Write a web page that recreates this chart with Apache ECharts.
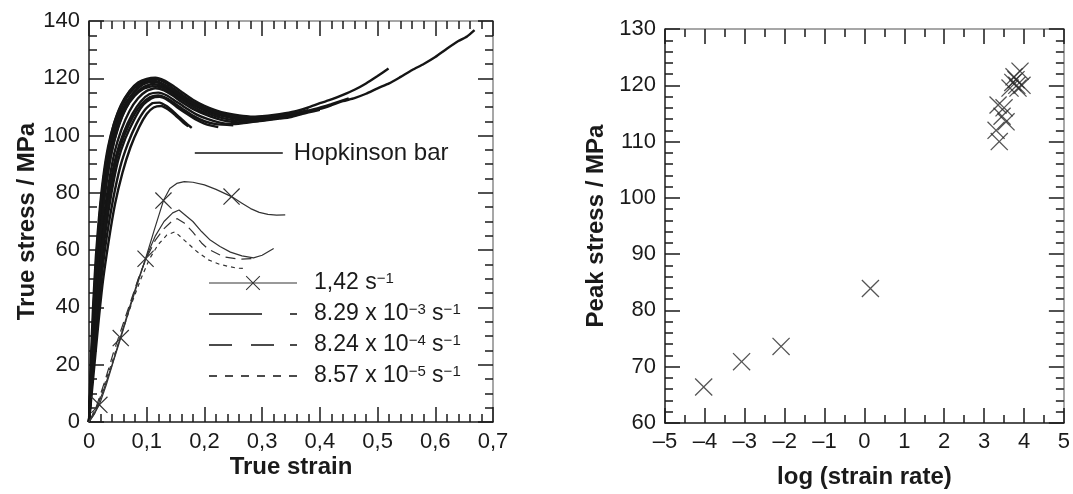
<!DOCTYPE html>
<html>
<head>
<meta charset="utf-8">
<script src="https://cdn.jsdelivr.net/npm/echarts@6/dist/echarts.min.js"></script>
<style>html,body{margin:0;padding:0;background:#fff}#c{width:1073px;height:494px}</style>
</head>
<body>
<div id="c"></div>
<script>
// ---------------- DATA ----------------
// Left panel: x = true strain, y = true stress (MPa)
const strainTicks = [0, 0.1, 0.2, 0.3, 0.4, 0.5, 0.6, 0.7];
const stressTicks = [0, 20, 40, 60, 80, 100, 120, 140];

// Hopkinson bar curves (hand-read)
const hop1 = [[0,0],[0.004,18],[0.009,38],[0.014,55],[0.02,70],[0.028,84],[0.037,95],[0.048,104],[0.06,110],[0.075,114.5],[0.09,117.5],[0.105,119],[0.12,118.6],[0.135,117],[0.15,114.8],[0.165,112.6],[0.18,111],[0.2,109.2],[0.22,107.8],[0.24,106.9],[0.26,106.2],[0.28,105.6],[0.3,105.9],[0.32,106.1],[0.34,106.6],[0.36,107.2],[0.38,108.4],[0.4,109.3],[0.42,110.6],[0.44,112],[0.46,113.1],[0.48,114.6],[0.5,116.5],[0.52,118.2],[0.54,120.5],[0.56,122.9],[0.58,125],[0.6,127.4],[0.62,130.3],[0.64,133],[0.655,134.6],[0.668,136.8]];
const hop2 = [[0,0],[0.003,20],[0.007,40],[0.012,58],[0.018,73],[0.025,86],[0.033,96],[0.043,104],[0.055,110.5],[0.07,115.5],[0.085,118.5],[0.1,119.8],[0.115,120.2],[0.13,119.3],[0.145,117.5],[0.16,115.3],[0.18,112.5],[0.2,110.4],[0.22,108.8],[0.24,107.7],[0.26,107],[0.28,106.6],[0.3,106.8],[0.32,107.2],[0.34,107.8],[0.36,108.6],[0.38,109.8],[0.4,111.3],[0.42,112.6],[0.44,114.2],[0.46,116],[0.48,118.2],[0.5,120.8],[0.519,123.4]];
const hop3 = [[0,0],[0.005,20],[0.01,39],[0.016,57],[0.023,72],[0.031,85],[0.04,95],[0.052,104],[0.065,110],[0.08,114.5],[0.095,117],[0.11,118],[0.125,117.4],[0.14,115.8],[0.155,113.8],[0.17,111.8],[0.19,109.7],[0.21,108],[0.23,106.9],[0.25,106],[0.27,105.3],[0.29,105],[0.31,105.4],[0.33,105.9],[0.35,106.5],[0.37,107.6],[0.4,109]];
const hop4 = [[0,0],[0.005,19],[0.011,38],[0.017,55],[0.025,70],[0.034,83],[0.044,94],[0.056,102],[0.07,108.5],[0.085,113],[0.1,115.6],[0.115,116.5],[0.13,115.8],[0.145,114],[0.16,111.8],[0.18,109.3],[0.2,107.5],[0.22,106],[0.24,105],[0.26,104.6],[0.28,104.9],[0.3,105.5],[0.33,106.3],[0.36,107.4]];
const hop5 = [[0,0],[0.006,19],[0.012,37],[0.019,54],[0.027,69],[0.036,82],[0.047,93],[0.06,101],[0.075,107.5],[0.09,112],[0.105,114.5],[0.12,115],[0.135,114],[0.15,112],[0.165,110],[0.185,107.5],[0.205,105.8],[0.225,104.6],[0.245,104],[0.265,104.3],[0.29,105],[0.31,105.6],[0.33,106.2]];
const hop6 = [[0,0],[0.006,18],[0.013,36],[0.02,52],[0.029,67],[0.039,80],[0.05,91],[0.063,99],[0.078,105.5],[0.093,110.5],[0.108,113],[0.122,113.5],[0.137,112.3],[0.152,110],[0.168,107.8],[0.185,105.6],[0.2,104.2],[0.212,103.5],[0.224,103]];
const hop7 = [[0,0],[0.007,18],[0.014,35],[0.022,51],[0.031,65],[0.042,78],[0.054,89],[0.067,97],[0.082,104],[0.097,109],[0.11,111.3],[0.122,111.5],[0.135,110.2],[0.148,108],[0.16,105.8],[0.17,104],[0.178,102.7]];
const hop8 = [[0,0],[0.008,17],[0.016,34],[0.024,49],[0.034,63],[0.045,76],[0.058,87],[0.072,96],[0.087,103],[0.1,107.5],[0.112,109.8],[0.125,110.3],[0.138,109],[0.15,107],[0.162,104.8],[0.172,103.2]];
const hop9 = [[0,0],[0.004,19],[0.008,39],[0.013,57],[0.019,72],[0.026,85],[0.035,96],[0.045,104],[0.058,110.5],[0.072,115],[0.088,118],[0.103,119.4],[0.118,119.6],[0.133,118.4],[0.148,116.2],[0.163,114],[0.18,111.8],[0.2,109.8],[0.22,108.3],[0.24,107.4],[0.26,106.8],[0.28,106.4],[0.3,106.5]];
const hop10 = [[0,0],[0.004,19],[0.009,38],[0.015,56],[0.021,71],[0.029,84],[0.038,95],[0.05,104],[0.063,110.5],[0.078,115],[0.093,117.8],[0.108,118.8],[0.123,118.3],[0.138,116.6],[0.153,114.5],[0.168,112.4],[0.185,110.5],[0.205,108.7],[0.225,107.4],[0.245,106.5],[0.265,105.9],[0.285,105.7],[0.305,106],[0.33,106.7],[0.36,107.8],[0.39,109.2],[0.42,111],[0.45,113]];
const hop11 = [[0,0],[0.005,19],[0.01,38],[0.016,56],[0.022,70],[0.03,83],[0.039,94],[0.051,103],[0.064,109.5],[0.079,113.8],[0.094,116.3],[0.11,117.2],[0.125,116.8],[0.14,115.2],[0.155,113.2],[0.172,111],[0.19,109],[0.21,107.4],[0.23,106.2],[0.25,105.4],[0.27,105],[0.3,105.3]];
const hop12 = [[0,0],[0.004,20],[0.008,40],[0.013,58],[0.019,73],[0.026,86],[0.034,96],[0.044,104.5],[0.057,111],[0.071,115.6],[0.086,118.2],[0.1,119.2],[0.116,119],[0.131,117.8],[0.146,115.8],[0.162,113.5],[0.18,111.3],[0.2,109.5],[0.22,108.1],[0.24,107.2],[0.26,106.6],[0.28,106.3],[0.3,106.4],[0.32,106.8],[0.34,107.3],[0.36,108],[0.38,108.9]];
const hop13 = [[0,0],[0.006,18],[0.012,36],[0.019,53],[0.027,68],[0.037,81],[0.048,92],[0.061,100],[0.076,106.5],[0.091,111],[0.106,113.4],[0.12,114],[0.135,113],[0.15,111],[0.166,108.8],[0.183,106.6],[0.2,105],[0.22,104],[0.25,103.6]];

// Quasi-static curves
const rate142 = [[0,0],[0.008,2.5],[0.018,6],[0.03,13],[0.042,21],[0.055,29.3],[0.068,38],[0.082,47],[0.098,57],[0.113,67],[0.129,77.3],[0.14,81.5],[0.152,83.3],[0.165,83.9],[0.18,83.7],[0.2,82.8],[0.22,81.2],[0.247,78.7],[0.265,76.4],[0.28,74.5],[0.295,73.2],[0.31,72.5],[0.325,72.2],[0.34,72.3]];
const rate142Markers = [0.018, 0.055, 0.098, 0.129, 0.247];
const rate829e3 = [[0,0],[0.01,3],[0.025,11],[0.04,20],[0.055,30],[0.07,40],[0.085,49.5],[0.1,58],[0.115,65],[0.13,70],[0.145,73],[0.156,74],[0.168,72],[0.18,70],[0.195,66.5],[0.21,63.5],[0.227,61.3],[0.245,59.3],[0.265,58],[0.285,57.3],[0.3,58.2],[0.32,60.6]];
const rate824e4 = [[0,0],[0.012,5],[0.027,14],[0.042,24],[0.057,33],[0.072,42],[0.087,51],[0.1,57.5],[0.115,63.5],[0.13,67.5],[0.143,70],[0.153,71],[0.165,69.5],[0.18,66.3],[0.195,62.5],[0.207,60.3],[0.233,57.7],[0.26,56.8],[0.285,57.1]];
const rate857e5 = [[0,0],[0.015,6],[0.03,15],[0.045,24],[0.06,33],[0.075,42],[0.09,50],[0.105,57],[0.12,62],[0.135,65.3],[0.149,66.4],[0.165,63.5],[0.187,59.5],[0.207,56.6],[0.227,55],[0.256,53.7],[0.27,53.6]];

const seriesNames = ['1,42 s-1', '8.29 x 10-3 s-1', '8.24 x 10-4 s-1', '8.57 x 10-5 s-1'];
const legendLabels = ['1,42 s{sup|−1}', '8.29 x 10{sup|−3} s{sup|−1}', '8.24 x 10{sup|−4} s{sup|−1}', '8.57 x 10{sup|−5} s{sup|−1}'];

// Right panel: x = log(strain rate), y = peak stress (MPa)
const logRateTicks = [-5, -4, -3, -2, -1, 0, 1, 2, 3, 4, 5];
const peakTicks = [60, 70, 80, 90, 100, 110, 120, 130];
const peakLogRate = [-4.03, -3.08, -2.09, 0.15, 3.38, 3.30, 3.55, 3.45, 3.35, 3.50, 3.65, 3.72, 3.80, 3.90, 3.85, 3.95, 3.75, 3.82];
const peakStress  = [66.4, 70.9, 73.6, 83.9, 110.0, 112.0, 113.5, 114.5, 116.5, 116.0, 119.5, 120.5, 121.0, 122.5, 119.5, 120.0, 121.5, 120.0];

// ---------------- CHART ----------------
const FONT = 'Liberation Sans, Arial, Helvetica, sans-serif';
const XPATH = 'path://M0,1L1,0L10,9L19,0L20,1L11,10L20,19L19,20L10,11L1,20L0,19L9,10Z';
const DARK = '#1a1a1a';

function axisBase(extra) {
  return Object.assign({
    type: 'value',
    nameLocation: 'middle',
    nameMoveOverlap: false,
    nameTextStyle: { fontFamily: FONT, fontSize: 24, fontWeight: 'bold', color: DARK },
    axisLine: { show: true, onZero: false, lineStyle: { color: DARK, width: 1.5 } },
    axisTick: { show: true, inside: true, length: 15, lineStyle: { color: DARK, width: 1.5 } },
    minorTick: { show: true, length: 8, lineStyle: { color: DARK, width: 1.5 } },
    splitLine: { show: false },
    axisLabel: { fontFamily: FONT, fontSize: 22, color: DARK, margin: 9 }
  }, extra);
}
function sideAxis(extra) {
  const a = axisBase(extra);
  a.axisLabel = { show: false };
  a.axisLine = { show: true, onZero: false, lineStyle: { color: '#8a8a8a', width: 1.5 } };
  return a;
}
const fmtComma = v => v === 0 ? '0' : v.toFixed(1).replace('.', ',');
const fmtDash = v => v < 0 ? '\u2013' + Math.abs(v) : String(v);
const minor = n => ({ show: true, splitNumber: n, length: 8, lineStyle: { color: DARK, width: 1.5 } });

const xAxes = [
  axisBase({ gridIndex: 0, min: strainTicks[0], max: strainTicks[strainTicks.length-1], interval: 0.1, name: 'True strain', nameGap: 33, minorTick: minor(5), axisLabel: { fontFamily: FONT, fontSize: 22, color: DARK, margin: 9, formatter: fmtComma } }),
  sideAxis({ gridIndex: 0, position: 'top', min: strainTicks[0], max: strainTicks[strainTicks.length-1], interval: 0.1, minorTick: minor(5) }),
  axisBase({ gridIndex: 1, min: logRateTicks[0], max: logRateTicks[logRateTicks.length-1], interval: 1, name: 'log (strain rate)', nameGap: 42, minorTick: minor(2), axisLabel: { fontFamily: FONT, fontSize: 22, color: DARK, margin: 8, formatter: fmtDash } }),
  sideAxis({ gridIndex: 1, position: 'top', min: logRateTicks[0], max: logRateTicks[logRateTicks.length-1], interval: 1, minorTick: minor(2) })
];
const yAxes = [
  axisBase({ gridIndex: 0, min: stressTicks[0], max: stressTicks[stressTicks.length-1], interval: 20, name: 'True stress / MPa', nameGap: 50, minorTick: minor(4) }),
  sideAxis({ gridIndex: 0, position: 'right', min: stressTicks[0], max: stressTicks[stressTicks.length-1], interval: 20, minorTick: minor(4) }),
  axisBase({ gridIndex: 1, min: peakTicks[0], max: peakTicks[peakTicks.length-1], interval: 10, name: 'Peak stress / MPa', nameGap: 57, minorTick: minor(5) }),
  sideAxis({ gridIndex: 1, position: 'right', min: peakTicks[0], max: peakTicks[peakTicks.length-1], interval: 10, minorTick: minor(5) })
];

const series = [];
[hop1, hop2, hop3, hop4, hop5, hop6, hop7, hop8, hop9, hop10, hop11, hop12, hop13].forEach(c => {
  series.push({ name: 'Hopkinson bar', type: 'line', xAxisIndex: 0, yAxisIndex: 0, data: c, showSymbol: false, symbol: 'none', smooth: 0.2,
    lineStyle: { color: '#151515', width: 2.4 }, itemStyle: { color: '#151515' }, z: 3 });
});
series.push({ name: seriesNames[0], type: 'line', xAxisIndex: 0, yAxisIndex: 0, data: rate142,
  symbol: XPATH, symbolSize: (v) => rate142Markers.indexOf(v[0]) >= 0 ? 17 : 0, showSymbol: true,
  lineStyle: { color: '#333', width: 1.2 }, itemStyle: { color: '#333' }, z: 4 });
series.push({ name: seriesNames[1], type: 'line', xAxisIndex: 0, yAxisIndex: 0, data: rate829e3, symbol: 'none',
  lineStyle: { color: '#333', width: 1.2, type: 'solid' }, itemStyle: { color: '#333' } });
series.push({ name: seriesNames[2], type: 'line', xAxisIndex: 0, yAxisIndex: 0, data: rate824e4, symbol: 'none',
  lineStyle: { color: '#333', width: 1.2, type: [10, 6] }, itemStyle: { color: '#333' } });
series.push({ name: seriesNames[3], type: 'line', xAxisIndex: 0, yAxisIndex: 0, data: rate857e5, symbol: 'none',
  lineStyle: { color: '#333', width: 1.2, type: [4, 4] }, itemStyle: { color: '#333' } });
series.push({ name: 'peak', type: 'scatter', xAxisIndex: 2, yAxisIndex: 2,
  data: peakLogRate.map((x, i) => [x, peakStress[i]]), symbol: XPATH, symbolSize: 18,
  itemStyle: { color: '#2a2a2a' } });

const legendText = {};
seriesNames.forEach((n, i) => legendText[n] = legendLabels[i]);
const hidden = { opacity: 0 };

const option = {
  animation: false,
  backgroundColor: '#fff',
  grid: [
    { left: 89, top: 21, width: 404, height: 401 },
    { left: 665, top: 29, width: 403, height: 399 }
  ],
  xAxis: xAxes,
  yAxis: yAxes,
  legend: [
    { data: [{ name: 'Hopkinson bar', itemStyle: hidden }], left: 194, top: 141, padding: 0, itemWidth: 88, itemHeight: 14,
      selectedMode: false,
      textStyle: { fontFamily: FONT, fontSize: 24, color: DARK, padding: [0, 0, 0, 6] },
      lineStyle: { width: 1.6, color: '#111' } },
    { data: [
        { name: seriesNames[0], lineStyle: { color: '#999', width: 2 }, itemStyle: { color: '#333' } },
        { name: seriesNames[1], itemStyle: hidden, lineStyle: { color: '#111', width: 1.6, type: [53, 28, 7] } },
        { name: seriesNames[2], itemStyle: hidden, lineStyle: { color: '#111', width: 1.6, type: [23, 19, 23, 16, 7] } },
        { name: seriesNames[3], itemStyle: hidden, lineStyle: { color: '#111', width: 1.6, type: [8, 8] } }
      ],
      orient: 'vertical', left: 208, top: 271, padding: 0, itemWidth: 88, itemHeight: 18, itemGap: 7,
      selectedMode: false,
      formatter: n => legendText[n] || n,
      textStyle: { fontFamily: FONT, fontSize: 23, color: DARK, lineHeight: 24, padding: [0, 0, 0, 12],
        rich: { sup: { fontFamily: FONT, fontSize: 15, color: DARK, lineHeight: 14, verticalAlign: 'top' } } } }
  ],
  series: series
};
echarts.init(document.getElementById('c'), null, { renderer: 'canvas' }).setOption(option);
</script>
</body>
</html>
